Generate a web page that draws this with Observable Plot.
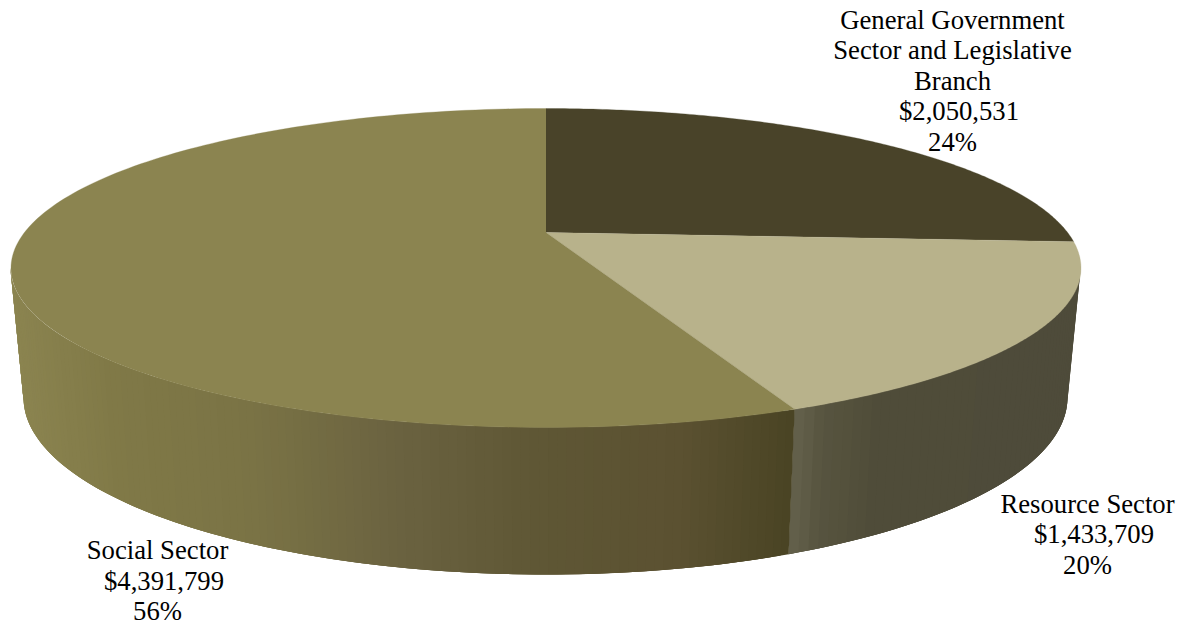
<!DOCTYPE html>
<html>
<head>
<meta charset="utf-8">
<script src="https://cdn.jsdelivr.net/npm/d3@7"></script>
<script src="https://cdn.jsdelivr.net/npm/@observablehq/plot@0.6"></script>
<style>html,body{margin:0;padding:0;background:#fff}svg{display:block}</style>
</head>
<body>
<div id="chart"></div>
<script>
// Data, in drawing order clockwise from twelve o'clock
const sectorLines = [["General Government", "Sector and Legislative", "Branch"], ["Resource Sector"], ["Social Sector"]];
const amounts = [2050531, 1433709, 4391799];
const percents = [24, 20, 56];

// Look
const topColors = ["#494329", "#b8b28b", "#8b8450"];
const sideStops = {
  resource: [[790, "#66634e"], [825, "#57543f"], [880, "#4f4c39"], [1080, "#4e4b3a"]],
  social: [[10, "#8b8450"], [110, "#807947"], [250, "#7a7345"], [400, "#6a6240"], [533, "#5f5735"], [680, "#5b5131"], [790, "#4a4424"]]
};
const W = 1178, H = 622;
const topRim = {cx: 545, cy: 267.5, rx: 535, ry: 159.5};
const baseRim = {cx: 545, cy: 397, rx: 522, ry: 177};
const hub = {x: 545.5, y: 232};
// Perspective of the pie's top face
const k = (2 * hub.y - (topRim.cy - topRim.ry) - (topRim.cy + topRim.ry)) / ((topRim.cy + topRim.ry) - (topRim.cy - topRim.ry));
const a = hub.y - (topRim.cy - topRim.ry) * (1 - k);
const A = topRim.rx * Math.sqrt(1 - k * k);
const skew = 2.27 * Math.PI / 180;
function face(t) {
  const th = t + skew * Math.sin(2 * t);
  const u = Math.sin(th), v = -Math.cos(th), w = 1 + k * v;
  return {x: hub.x + A * u / w, y: (a * v + hub.y) / w};
}
const total = d3.sum(amounts);
const cuts = [0, ...d3.cumsum(amounts).map(d => d / total * 2 * Math.PI)];

// Top-face wedges
const wedges = [];
amounts.forEach((_, i) => {
  const n = 160;
  wedges.push({slice: i, ...hub});
  for (let j = 0; j <= n; j++) {
    wedges.push({slice: i, ...face(cuts[i] + (cuts[i + 1] - cuts[i]) * j / n)});
  }
});

// Side wall as shaded strips along the front half of the rim; each strip
// overlaps the next ones, and is painted over by them, so no seams appear.
const cutPoint = face(cuts[2]);
const phiCut = Math.acos((cutPoint.x - topRim.cx) / topRim.rx);
function shade(stops, x) {
  return d3.scaleLinear().domain(stops.map(s => s[0])).range(stops.map(s => s[1])).clamp(true)(x);
}
const strips = [];
let stripId = 0;
function addStrips(phi0, phi1, n, stops) {
  const dp = (phi1 - phi0) / n;
  for (let i = 0; i < n; i++) {
    const p0 = phi0 + dp * i, p1 = Math.min(phi1, p0 + 3 * dp), pm = (p0 + p1) / 2;
    const id = stripId++;
    const color = d3.color(shade(stops, topRim.cx + topRim.rx * Math.cos(p0 + dp / 2))).formatHex();
    const rim = (r, p) => ({x: r.cx + r.rx * Math.cos(p), y: r.cy + r.ry * Math.sin(p), id, color});
    strips.push(rim(topRim, p0), rim(topRim, pm), rim(topRim, p1), rim(baseRim, p1), rim(baseRim, pm), rim(baseRim, p0));
  }
}
addStrips(0, phiCut, 50, sideStops.resource);
addStrips(phiCut, Math.PI, 120, sideStops.social);

// One text per line, so the amount line can sit a little right of the others
const blocks = [{x: 952, y: 28.5, step: 30.4}, {x: 1087, y: 512, step: 30.5}, {x: 157, y: 558.5, step: 30.5}];
const amountShift = 6.5;
const textRows = sectorLines.flatMap((lines, i) => {
  const all = [...lines, d3.format("$,")(amounts[i]), percents[i] + "%"];
  return all.map((text, j) => ({
    text,
    x: blocks[i].x + (j === lines.length ? amountShift : 0),
    y: blocks[i].y + j * blocks[i].step
  }));
});

document.getElementById("chart").append(Plot.plot({
  width: W, height: H,
  margin: 0,
  x: {domain: [0, W], range: [0, W], axis: null},
  y: {domain: [0, H], range: [0, H], axis: null},
  color: {type: "identity"},
  marks: [
    Plot.line(strips, {x: "x", y: "y", z: "id", fill: d => d.color, stroke: "none"}),
    ...topColors.map((c, i) => Plot.line(wedges.filter(d => d.slice === i), {x: "x", y: "y", fill: c, stroke: c, strokeWidth: 0.3})),
    Plot.text(textRows, {x: "x", y: "y", text: "text", fontSize: 26.7, fontFamily: "Liberation Serif", fill: "#000", lineAnchor: "bottom", textAnchor: "middle"})
  ]
}));
</script>
</body>
</html>
